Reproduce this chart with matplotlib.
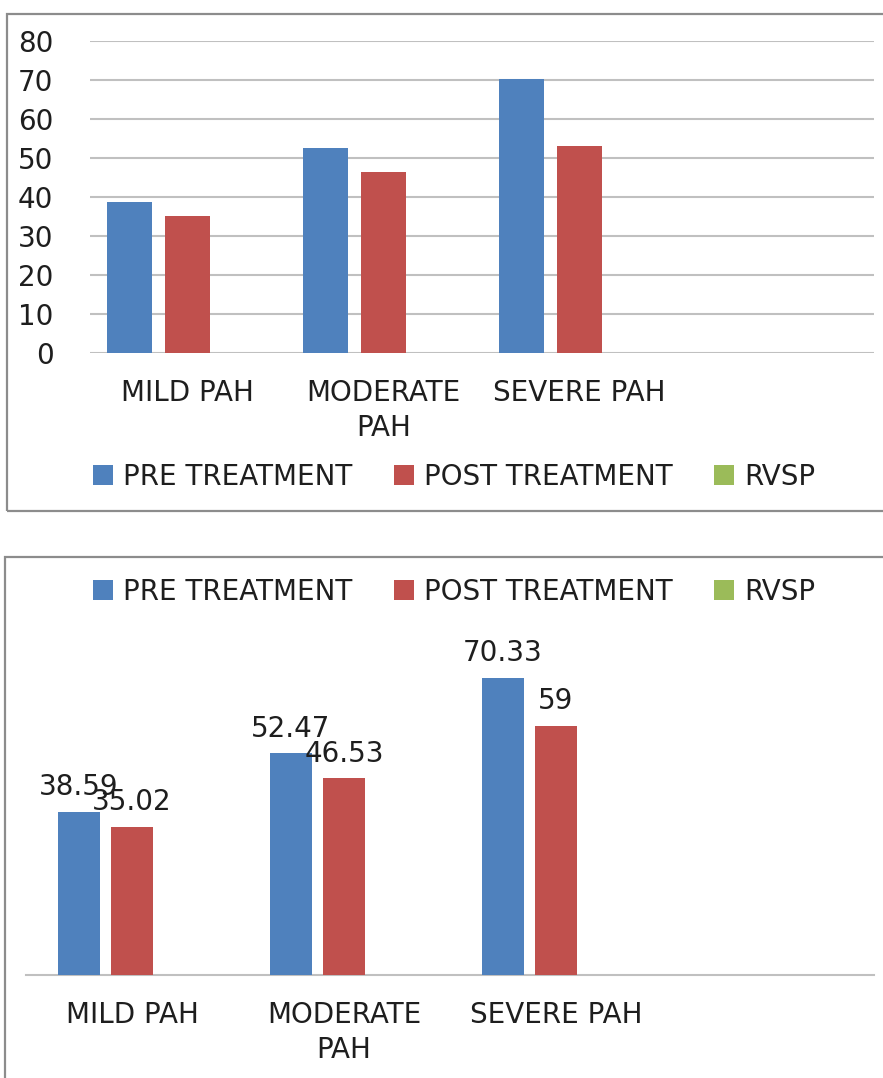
import numpy as np
import matplotlib
matplotlib.use("Agg")
import matplotlib.pyplot as plt
from matplotlib.patches import Rectangle, Patch

plt.rcParams['font.family'] = ['DejaVu Sans']

# data
categories = ["MILD PAH", "MODERATE\nPAH", "SEVERE PAH"]
series_names = ["PRE TREATMENT", "POST TREATMENT", "RVSP"]
pre_treatment = [38.59, 52.47, 70.33]
post_treatment = [35.02, 46.53, 53.0]
post_treatment_labelled = [35.02, 46.53, 59]
y_ticks = [0, 10, 20, 30, 40, 50, 60, 70, 80]

BLUE = "#4F81BD"
RED = "#C0504D"
GREEN = "#9BBB59"
GRID = "#C0C0C0"
FRAME = "#8C8C8C"
TEXT = "#1E1E1E"
FS = 20

W, H = 883, 1078
fig = plt.figure(figsize=(W / 100, H / 100), dpi=100)
fig.patch.set_facecolor("white")


def px_axes(left, top, right, bottom):
    # axes placed by pixel edges (origin top-left)
    return fig.add_axes([left / W, 1 - bottom / H, (right - left) / W, (bottom - top) / H])


def frame(left, top, right, bottom):
    r = Rectangle((left / W, 1 - bottom / H), (right - left) / W, (bottom - top) / H,
                  transform=fig.transFigure, fill=False, edgecolor=FRAME,
                  linewidth=1.6, clip_on=False)
    fig.patches.append(r)


def add_legend(y_px):
    handles = [Patch(facecolor=c, edgecolor="none") for c in (BLUE, RED, GREEN)]
    fig.legend(handles, series_names, loc="center", ncol=3,
               bbox_to_anchor=(454 / W, 1 - y_px / H), frameon=False,
               fontsize=FS, handlelength=0.72, handleheight=0.72,
               handletextpad=0.36, columnspacing=1.5, labelcolor=TEXT)


x = np.arange(len(categories))

# --- top chart: gridlines + y axis ---
frame(7, 14, 900, 511)
ax1 = px_axes(89.5, 41, 873.5, 353)
slot, width = 0.296, 0.23
ax1.bar(x - slot, pre_treatment, width, color=BLUE, zorder=3)
ax1.bar(x, post_treatment, width, color=RED, zorder=3)
ax1.set_xlim(-0.5, 3.5)
ax1.set_ylim(0, 80)
ax1.set_yticks(y_ticks)
ax1.yaxis.grid(True, color=GRID, linewidth=1.5)
ax1.set_axisbelow(True)
ax1.set_xticks(x)
ax1.set_xticklabels(categories, linespacing=1.3)
ax1.tick_params(length=0, labelsize=FS, labelcolor=TEXT)
ax1.tick_params(axis="y", pad=26)
ax1.tick_params(axis="x", pad=19)
for s in ax1.spines.values():
    s.set_visible(False)
add_legend(477)

# --- bottom chart: value labels, no y axis ---
frame(5, 557, 900, 1100)
ax2 = px_axes(26, 637, 874, 975)
slot2, width2 = 0.25, 0.198
b1 = ax2.bar(x - slot2, pre_treatment, width2, color=BLUE, zorder=3)
b2 = ax2.bar(x, post_treatment_labelled, width2, color=RED, zorder=3)
for bars, vals in ((b1, pre_treatment), (b2, post_treatment_labelled)):
    for rect, v in zip(bars, vals):
        ax2.annotate(f"{v:g}", (rect.get_x() + rect.get_width() / 2, v),
                     xytext=(0, 12), textcoords="offset points",
                     ha="center", va="baseline", fontsize=FS, color=TEXT)
ax2.set_xlim(-0.5, 3.5)
ax2.set_ylim(0, 80)
ax2.set_yticks([])
ax2.set_xticks(x)
ax2.set_xticklabels(categories, linespacing=1.3)
ax2.tick_params(length=0, labelsize=FS, labelcolor=TEXT)
ax2.tick_params(axis="x", pad=19)
for name, s in ax2.spines.items():
    s.set_visible(name == "bottom")
ax2.spines["bottom"].set_color(GRID)
ax2.spines["bottom"].set_linewidth(1.5)
add_legend(592)

fig.savefig("out.png", dpi=100, facecolor="white")
